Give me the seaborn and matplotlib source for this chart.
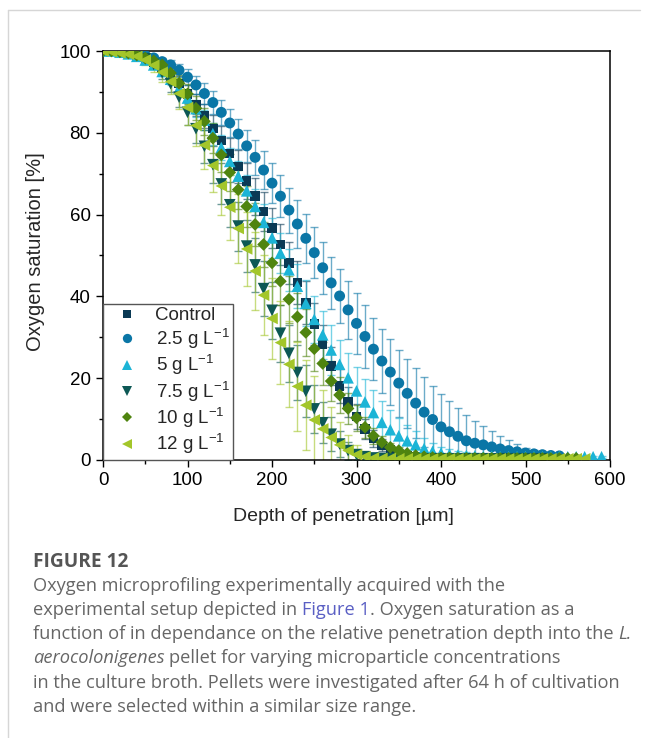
import numpy as np
import pandas as pd
import matplotlib
matplotlib.use("Agg")
import matplotlib.pyplot as plt
import seaborn as sns
from matplotlib.lines import Line2D
from matplotlib.ticker import MultipleLocator

# ---------------- data ----------------
depth = list(range(0, 600, 10))

control = [100, 100, 99.8, 99.5, 99.0, 98.3, 97.3, 95.9, 94.2, 92.0,
           89.5, 86.8, 84.1, 81.1, 78.1, 75.0, 71.7, 68.2, 64.5, 60.8,
           56.7, 52.7, 48.2, 43.4, 38.5, 33.3, 28.2, 23.0, 18.1, 14.2,
           10.6, 7.6, 5.3, 3.6, 2.4, 1.6, 1.1, 0.8, 0.6, 0.5,
           0.4, 0.4, 0.3, 0.3, 0.3, 0.3, 0.2, 0.2, 0.2, 0.2, 0.2]
control_err = [0, 0, 0.2, 0.3, 0.5, 0.7, 1.0, 1.3, 1.6, 2.0,
               2.3, 2.6, 2.9, 3.2, 3.5, 3.8, 4.0, 4.3, 4.5, 4.7,
               4.9, 5.0, 5.1, 5.2, 5.2, 5.1, 4.9, 4.6, 4.2, 3.7,
               3.1, 2.5, 2.0, 1.5, 1.1, 0.8, 0.6, 0.4, 0.3, 0.3,
               0.3, 0.2, 0.2, 0.2, 0.2, 0.2, 0.2, 0.2, 0.2, 0.2, 0.2]

c25 = [100, 100, 99.8, 99.6, 99.3, 98.9, 98.3, 97.4, 96.6, 95.3,
       93.6, 91.7, 89.6, 87.4, 85.0, 82.4, 79.7, 76.8, 74.0, 70.9,
       67.7, 64.5, 61.1, 57.7, 54.2, 50.7, 47.0, 43.3, 40.1, 36.7,
       33.4, 30.2, 27.1, 24.2, 21.5, 18.8, 16.3, 13.9, 11.7, 9.9,
       8.1, 6.9, 5.8, 4.7, 4.1, 3.7, 3.2, 2.7, 2.3, 2.0,
       1.7, 1.5, 1.3, 1.1, 1.0]
c25_err = [0, 0, 0.2, 0.3, 0.4, 0.6, 0.8, 1.0, 1.3, 1.6,
           1.9, 2.2, 2.5, 2.8, 3.1, 3.4, 3.7, 4.0, 4.3, 4.6,
           4.9, 5.2, 5.5, 5.8, 6.0, 6.2, 6.3, 6.4, 6.6, 7.0,
           7.4, 7.6, 7.6, 7.8, 8.0, 8.2, 8.4, 8.5, 8.5, 8.3,
           8.1, 7.6, 7.0, 6.3, 5.5, 4.7, 3.9, 3.2, 2.5, 1.8,
           1.3, 1.0, 0.8, 0.6, 0.5]

c5 = [100, 100, 99.7, 99.3, 98.7, 97.8, 96.6, 95.0, 93.1, 90.9,
      88.5, 85.9, 83.1, 79.8, 76.4, 73.0, 69.4, 65.8, 62.0, 58.1,
      54.3, 50.6, 46.5, 42.5, 38.3, 34.4, 30.6, 26.9, 23.4, 20.1,
      16.9, 14.2, 11.6, 9.2, 7.4, 5.9, 4.7, 3.7, 2.8, 2.1,
      1.7, 1.4, 1.2, 1.1, 1.0, 0.9, 0.9, 0.8, 0.8, 0.8,
      0.8, 0.8, 0.8, 0.8, 0.8, 0.8, 0.8, 0.8, 0.8, 0.8]
c5_err = [0, 0, 0.2, 0.3, 0.5, 0.7, 0.9, 1.1, 1.3, 1.5,
          1.8, 2.1, 2.4, 2.7, 3.0, 3.3, 3.6, 3.9, 4.2, 4.5,
          4.8, 5.0, 5.2, 5.4, 5.6, 5.8, 5.9, 6.0, 6.0, 6.0,
          5.9, 5.7, 5.5, 5.2, 4.8, 4.4, 3.9, 3.3, 2.6, 2.0,
          1.5, 1.2, 1.0, 0.8, 0.7, 0.6, 0.5, 0.5, 0.4, 0.4,
          0.4, 0.4, 0.3, 0.3, 0.3, 0.3, 0.3, 0.3, 0.3, 0.3]

c75 = [100, 100, 99.8, 99.5, 99.0, 98.1, 96.7, 94.7, 92.0, 88.7,
       85.0, 81.0, 76.7, 72.2, 67.5, 62.4, 57.2, 52.3, 47.7, 41.9,
       36.6, 31.0, 26.1, 21.4, 16.8, 12.5, 9.1, 6.3, 3.9, 2.3,
       1.3, 0.8, 0.5, 0.4, 0.3, 0.3, 0.3, 0.3, 0.3, 0.3,
       0.3, 0.3, 0.3, 0.3, 0.3, 0.3, 0.3, 0.3, 0.3, 0.3,
       0.3, 0.3, 0.3]
c75_err = [0, 0, 0.2, 0.3, 0.5, 0.8, 1.1, 1.5, 2.0, 2.5,
           3.0, 3.5, 4.0, 4.5, 5.0, 5.5, 6.0, 6.3, 6.6, 6.8,
           7.0, 7.0, 7.0, 6.8, 6.4, 5.8, 5.0, 4.2, 3.2, 2.2,
           1.4, 0.8, 0.5, 0.3, 0.2, 0.2, 0.2, 0.2, 0.2, 0.2,
           0.2, 0.2, 0.2, 0.2, 0.2, 0.2, 0.2, 0.2, 0.2, 0.2,
           0.2, 0.2, 0.2]

c10 = [100, 100, 99.8, 99.5, 99.0, 98.3, 97.6, 96.6, 94.6, 92.1,
       89.5, 86.0, 82.8, 78.7, 74.6, 70.3, 66.1, 62.0, 57.6, 52.7,
       48.2, 43.7, 39.3, 35.0, 31.2, 27.2, 23.6, 19.3, 15.9, 12.6,
       10.3, 8.0, 5.9, 4.3, 3.1, 2.3, 1.6, 1.1, 0.8, 0.6,
       0.5, 0.5, 0.4, 0.4, 0.4, 0.4, 0.4, 0.4, 0.4, 0.4,
       0.4, 0.4, 0.4, 0.4, 0.4, 0.4, 0.4]
c10_err = [0, 0, 0.2, 0.3, 0.5, 0.7, 1.0, 1.3, 1.7, 2.1,
           2.5, 2.9, 3.3, 3.7, 4.1, 4.5, 4.8, 5.1, 5.3, 5.5,
           5.6, 5.7, 5.8, 5.8, 5.7, 5.5, 5.2, 4.8, 4.3, 3.7,
           3.1, 2.5, 2.0, 1.5, 1.1, 0.8, 0.6, 0.5, 0.4, 0.3,
           0.3, 0.3, 0.3, 0.3, 0.3, 0.3, 0.3, 0.3, 0.3, 0.3,
           0.3, 0.3, 0.3, 0.3, 0.3, 0.3, 0.3]

c12 = [100, 99.8, 99.5, 99.2, 98.7, 97.8, 96.5, 94.8, 92.5, 89.6,
       86.2, 81.8, 77.0, 72.0, 67.0, 61.8, 56.6, 51.6, 46.2, 40.3,
       34.6, 28.7, 23.4, 18.0, 13.4, 9.8, 7.6, 5.5, 3.7, 2.3,
       1.3, 0.8, 0.5, 0.4, 0.4, 0.3, 0.3, 0.3, 0.3, 0.3,
       0.3, 0.3, 0.3, 0.3, 0.3, 0.3, 0.3, 0.3, 0.3, 0.3,
       0.3, 0.3, 0.3, 0.3, 0.3, 0.3, 0.3, 0.3]
c12_err = [0, 0.1, 0.3, 0.5, 0.8, 1.2, 1.7, 2.3, 3.0, 3.7,
           4.4, 5.1, 5.8, 6.5, 7.2, 7.9, 8.5, 9.0, 9.5, 9.8,
           10.0, 10.2, 10.5, 10.8, 11.0, 10.8, 9.5, 7.5, 5.5, 3.8,
           2.4, 1.4, 0.8, 0.5, 0.4, 0.3, 0.3, 0.3, 0.3, 0.3,
           0.3, 0.3, 0.3, 0.3, 0.3, 0.3, 0.3, 0.3, 0.3, 0.3,
           0.3, 0.3, 0.3, 0.3, 0.3, 0.3, 0.3, 0.3]

labels = ["Control", "2.5 g L$^{-1}$", "5 g L$^{-1}$", "7.5 g L$^{-1}$",
          "10 g L$^{-1}$", "12 g L$^{-1}$"]
values = [control, c25, c5, c75, c10, c12]
errors = [control_err, c25_err, c5_err, c75_err, c10_err, c12_err]

# ---------------- styles ----------------
markers = ['s', 'o', '^', 'v', 'D', '<']
colors = ['#0b3a55', '#0a76a6', '#1cb4d6', '#0d5855', '#4f840f', '#a3c62a']
sizes = [46, 62, 70, 70, 42, 70]

sns.set_style("ticks")
plt.rcParams['font.family'] = ['Liberation Sans', 'DejaVu Sans']
plt.rcParams['mathtext.fontset'] = 'custom'
plt.rcParams['mathtext.rm'] = 'Liberation Sans'
plt.rcParams['mathtext.it'] = 'Liberation Sans:italic'
plt.rcParams['mathtext.bf'] = 'Liberation Sans:bold'

W, H = 648, 738
fig = plt.figure(figsize=(W / 100, H / 100), dpi=100)
ax = fig.add_axes([103 / W, 1 - 460 / H, 507 / W, 409 / H])

rows = []
for lab, vals, errs in zip(labels, values, errors):
    for d, v, e in zip(depth, vals, errs):
        rows.append((lab, d, v, e))
df = pd.DataFrame(rows, columns=["series", "depth", "sat", "err"])

for lab, col in zip(labels, colors):
    sub = df[df.series == lab]
    ax.errorbar(sub.depth, sub.sat, yerr=sub.err, fmt='none', ecolor=col,
                alpha=0.6, elinewidth=1.0, capsize=3.2, capthick=1.0, zorder=2)

for lab, m, col, s in zip(labels, markers, colors, sizes):
    sub = df[df.series == lab]
    sns.scatterplot(data=sub, x="depth", y="sat", marker=m, color=col, s=s,
                    edgecolor='none', linewidth=0, ax=ax, zorder=3, legend=False)

ax.set_xlim(0, 600)
ax.set_ylim(0, 100)
ax.xaxis.set_major_locator(MultipleLocator(100))
ax.xaxis.set_minor_locator(MultipleLocator(50))
ax.yaxis.set_major_locator(MultipleLocator(20))
ax.yaxis.set_minor_locator(MultipleLocator(10))
ax.tick_params(which='major', direction='out', length=5, width=1.0,
               labelsize=13.5, pad=4, color='black', labelcolor='black')
ax.tick_params(which='minor', direction='out', length=3, width=1.0, color='black')
ax.tick_params(top=False, right=False, which='both')
for sp in ax.spines.values():
    sp.set_visible(True)
    sp.set_color('black')
    sp.set_linewidth(1.1)

ax.set_xlabel("Depth of penetration [µm]", fontsize=14)
ax.set_ylabel("Oxygen saturation [%]", fontsize=14.5)
ax.xaxis.set_label_coords(0.474, -0.118)
ax.yaxis.set_label_coords(-0.115, 0.51)

handles = [Line2D([0], [0], marker=m, ls='none', color=c, markeredgewidth=0,
                  markersize=np.sqrt(s) * 0.85) for m, c, s in zip(markers, colors, sizes)]
leg = ax.legend(handles, labels, loc='lower left', bbox_to_anchor=(0, 0),
                borderaxespad=0, frameon=True, fancybox=False, framealpha=1,
                edgecolor='#555555', fontsize=13.5, borderpad=0.2,
                handlelength=2.2, handletextpad=0.4, labelspacing=0.12)
leg.get_frame().set_linewidth(1.0)

# ---------------- frame lines ----------------
fig.add_artist(Line2D([8 / W, 8 / W], [0, 1 - 10 / H], transform=fig.transFigure,
                      color='#d6d6d6', lw=1))
fig.add_artist(Line2D([8 / W, 640 / W], [1 - 10 / H, 1 - 10 / H],
                      transform=fig.transFigure, color='#d6d6d6', lw=1))

# ---------------- caption ----------------
renderer = fig.canvas.get_renderer()
cap_font = ['Open Sans', 'DejaVu Sans']
gray = '#666666'
blue = '#5a5fc4'


def text_width(s, **kw):
    t = fig.text(0, 0, s, **kw)
    w = t.get_window_extent(renderer).width
    t.remove()
    return w


ref_line = "function of in dependance on the relative penetration depth into the L."
w10 = text_width(ref_line, family=cap_font, fontsize=10)
cap_size = 10 * 599 / w10
space_w = text_width("a a", family=cap_font, fontsize=cap_size) - \
    text_width("aa", family=cap_font, fontsize=cap_size)

fig.text(33 / W, 1 - 567 / H, "FIGURE 12", family=cap_font, fontsize=cap_size * 1.05,
         fontweight='bold', color='#555555', va='baseline', ha='left')

caption = [
    (591, [("Oxygen microprofiling experimentally acquired with the", False, gray, False)]),
    (615, [("experimental setup depicted in", False, gray, False),
           ("Figure 1", False, blue, True),
           (". Oxygen saturation as a", False, gray, False)]),
    (639, [("function of in dependance on the relative penetration depth into the", False, gray, False),
           ("L.", True, gray, True)]),
    (663, [("aerocolonigenes", True, gray, False),
           ("pellet for varying microparticle concentrations", False, gray, True)]),
    (687.5, [("in the culture broth. Pellets were investigated after 64 h of cultivation", False, gray, False)]),
    (711.5, [("and were selected within a similar size range.", False, gray, False)]),
]
for base, segs in caption:
    x = 33.0
    for txt, ital, col, sp in segs:
        if sp:
            x += space_w
        t = fig.text(x / W, 1 - base / H, txt, family=cap_font, fontsize=cap_size,
                     style='italic' if ital else 'normal', color=col,
                     va='baseline', ha='left')
        x += t.get_window_extent(renderer).width

fig.savefig("out.png", dpi=100)
